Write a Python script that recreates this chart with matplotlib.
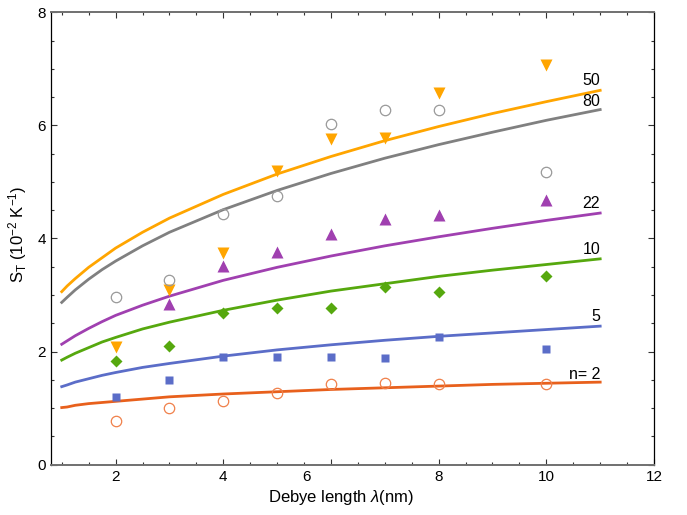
import matplotlib
matplotlib.use("Agg")
import matplotlib.pyplot as plt
import matplotlib.transforms as mtransforms
from matplotlib.ticker import MultipleLocator

plt.rcParams['font.family'] = ['Liberation Sans', 'DejaVu Sans']
plt.rcParams['mathtext.fontset'] = 'custom'
plt.rcParams['mathtext.rm'] = 'Liberation Sans'
plt.rcParams['mathtext.it'] = 'Liberation Sans:italic'

# measured points (Debye length in nm)
lam = [2, 3, 4, 5, 6, 7, 8, 10]
s_n2 = [0.77, 1.01, 1.12, 1.26, 1.42, 1.44, 1.42, 1.42]
s_n5 = [1.19, 1.49, 1.90, 1.90, 1.90, 1.88, 2.26, 2.04]
s_n10 = [1.84, 2.10, 2.69, 2.77, 2.77, 3.15, 3.06, 3.33]
lam22 = [3, 4, 5, 6, 7, 8, 10]
s_n22 = [2.84, 3.52, 3.76, 4.08, 4.34, 4.42, 4.68]
s_n50 = [2.09, 3.09, 3.75, 5.20, 5.76, 5.78, 6.57, 7.07]
s_n80 = [2.96, 3.26, 4.43, 4.76, 6.02, 6.27, 6.28, 5.17]

# fitted curves
lam_fit = [1, 1.1, 1.25, 1.5, 1.75, 2, 2.5, 3, 4, 5, 6, 7, 8, 9, 10, 11]
fit_n2 = [1.01, 1.02, 1.05, 1.08, 1.10, 1.12, 1.16, 1.20, 1.25, 1.29, 1.33, 1.36, 1.39, 1.42, 1.44, 1.46]
fit_n5 = [1.38, 1.41, 1.46, 1.52, 1.58, 1.63, 1.72, 1.79, 1.92, 2.03, 2.12, 2.20, 2.27, 2.33, 2.39, 2.45]
fit_n10 = [1.85, 1.90, 1.97, 2.07, 2.17, 2.25, 2.40, 2.52, 2.73, 2.91, 3.07, 3.20, 3.33, 3.44, 3.54, 3.64]
fit_n22 = [2.13, 2.19, 2.28, 2.41, 2.53, 2.64, 2.82, 2.98, 3.26, 3.49, 3.69, 3.87, 4.03, 4.18, 4.32, 4.45]
fit_n50 = [3.06, 3.16, 3.29, 3.49, 3.66, 3.83, 4.11, 4.36, 4.78, 5.14, 5.45, 5.73, 5.98, 6.21, 6.42, 6.62]
fit_n80 = [2.87, 2.96, 3.09, 3.28, 3.45, 3.60, 3.87, 4.11, 4.51, 4.85, 5.15, 5.42, 5.66, 5.88, 6.09, 6.28]

labels = ['n= 2', '5', '10', '22', '50', '80']
label_y = [1.60, 2.62, 3.80, 4.62, 6.80, 6.43]

c2, c5, c10, c22, c50, c80 = '#E8601C', '#5B6DC8', '#56A80E', '#A040B0', '#FFA500', '#808080'

fig = plt.figure(figsize=(6.87, 5.15), dpi=100)
ax = fig.add_axes([0.0742, 0.0977, 0.8778, 0.8784])

lw = 2.0
ax.plot(lam_fit, fit_n2, color=c2, lw=lw)
ax.plot(lam_fit, fit_n5, color=c5, lw=lw)
ax.plot(lam_fit, fit_n10, color=c10, lw=lw)
ax.plot(lam_fit, fit_n22, color=c22, lw=lw)
ax.plot(lam_fit, fit_n50, color=c50, lw=lw)
ax.plot(lam_fit, fit_n80, color=c80, lw=lw)

ax.plot(lam, s_n2, 'o', ms=7.5, mfc='none', mec='#F0804A', mew=0.9)
ax.plot(lam, s_n5, 's', ms=5.8, color=c5, mec='none')
ax.plot(lam, s_n10, 'D', ms=6.2, color=c10, mec='none')
ax.plot(lam22, s_n22, '^', ms=8, color=c22, mec='none')
ax.plot(lam, s_n50, 'v', ms=8, color=c50, mec='none')
ax.plot(lam, s_n80, 'o', ms=7.5, mfc='none', mec='#999999', mew=0.9)

for lab, ly in zip(labels, label_y):
    ax.text(11, ly, lab, ha='right', va='center', fontsize=11.5)

ax.set_xlim(0.8, 12)
ax.set_ylim(0, 8)
ax.xaxis.set_major_locator(MultipleLocator(2))
ax.xaxis.set_minor_locator(MultipleLocator(0.5))
ax.yaxis.set_major_locator(MultipleLocator(2))
ax.yaxis.set_minor_locator(MultipleLocator(0.5))
ax.tick_params(which='both', direction='in', top=True, right=True, labelsize=11,
               width=0.8, color='#333333')
ax.tick_params(which='major', length=4)
ax.tick_params(which='minor', length=2.5)

for side in ['left', 'right']:
    ax.spines[side].set_color('black')
    ax.spines[side].set_linewidth(0.9)
for side in ['top', 'bottom']:
    ax.spines[side].set_color('#707070')
    ax.spines[side].set_linewidth(1.4)

# the "6" label sits left of its tick in the original
fig.canvas.draw()
for t in ax.get_xticklabels():
    if t.get_text() == '6':
        t.set_transform(t.get_transform() + mtransforms.ScaledTranslation(-0.24, 0, fig.dpi_scale_trans))

ax.set_xlabel(r'Debye length $\it{\lambda}$(nm)', fontsize=12, labelpad=6)
ax.xaxis.set_label_coords(0.481, -0.052)
ax.set_ylabel(r'S$_\mathrm{T}$ (10$^{-2}$ K$^{-1}$)', fontsize=12)
ax.yaxis.set_label_coords(-0.037, 0.51)

fig.savefig('out.png', dpi=100)
